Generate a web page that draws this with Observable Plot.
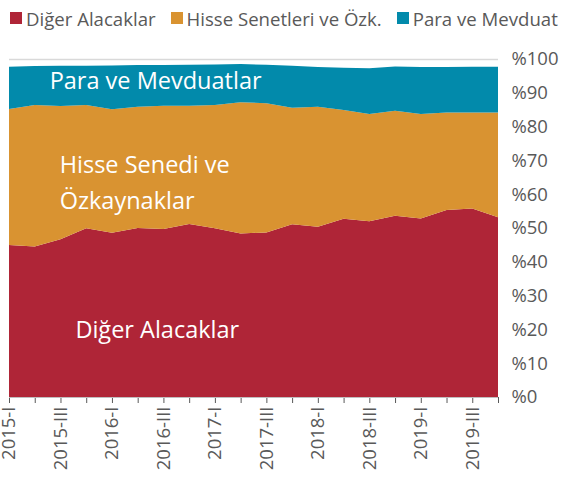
<!DOCTYPE html>
<html>
<head>
<meta charset="utf-8">
<script src="https://cdn.jsdelivr.net/npm/d3@7"></script>
<script src="https://cdn.jsdelivr.net/npm/@observablehq/plot@0.6"></script>
<style>
  html, body { margin: 0; padding: 0; background: #fff; }
  body { font-family: "Open Sans", sans-serif; width: 567px; height: 478px; overflow: hidden; }
  #legend { height: 36px; display: flex; align-items: center; padding-left: 10px; box-sizing: border-box; color: #595959; font-size: 18.6px; }
  .item { display: flex; align-items: center; margin-right: 15px; white-space: nowrap; }
  .sw { width: 12px; height: 12px; margin-right: 4px; display: inline-block; }
  svg { display: block; }
</style>
</head>
<body>
<div id="legend"></div>
<div id="chart"></div>
<script>
const quarters = ["2015-I","2015-II","2015-III","2015-IV","2016-I","2016-II","2016-III","2016-IV",
  "2017-I","2017-II","2017-III","2017-IV","2018-I","2018-II","2018-III","2018-IV",
  "2019-I","2019-II","2019-III","2019-IV"];
const series = ["Diğer Alacaklar", "Hisse Senetleri ve Özk.", "Para ve Mevduat"];
const colors = ["#AF2537", "#D99331", "#028AAB"];
const digerAlacaklar = [45.0, 44.5, 46.7, 49.9, 48.6, 50.0, 49.7, 51.2, 49.9, 48.4, 48.7, 51.1, 50.4, 52.7, 52.0, 53.6, 52.8, 55.3, 55.8, 53.2];
const hisseSenetleri = [40.2, 41.9, 39.4, 36.5, 36.5, 35.9, 36.5, 35.0, 36.5, 38.8, 38.2, 34.5, 35.5, 32.2, 31.7, 31.1, 30.9, 28.9, 28.4, 31.0];
const paraMevduat   = [12.5, 11.5, 11.9, 11.6, 13.0, 12.3, 12.0, 12.1, 12.0, 11.3, 11.4, 12.4, 11.7, 12.5, 13.6, 13.1, 13.9, 13.4, 13.5, 13.5];
const yTicks = [0, 10, 20, 30, 40, 50, 60, 70, 80, 90, 100];
const annotations = [
  {label: "Para ve Mevduatlar", x: 1.56, y: 93.6},
  {label: "Hisse Senedi ve", x: 1.95, y: 68.6},
  {label: "Özkaynaklar", x: 1.95, y: 58.0},
  {label: "Diğer Alacaklar", x: 2.56, y: 19.8}
];

const legend = document.getElementById("legend");
series.forEach((s, k) => {
  const it = document.createElement("span");
  it.className = "item";
  it.innerHTML = `<span class="sw" style="background:${colors[k]}"></span><span>${s}</span>`;
  legend.appendChild(it);
});

const values = [digerAlacaklar, hisseSenetleri, paraMevduat];
const data = quarters.flatMap((q, i) => series.map((s, k) => ({i, q, s, v: values[k][i]})));

const chart = Plot.plot({
  width: 567,
  height: 442,
  marginTop: 23,
  marginBottom: 81,
  marginLeft: 9,
  marginRight: 69,
  style: {fontFamily: "'Open Sans', sans-serif", fontSize: "18.5px", color: "#595959", background: "#fff", overflow: "visible"},
  x: {type: "linear", domain: [0, quarters.length - 1], ticks: d3.range(quarters.length),
      tickFormat: i => (i % 2 === 0 ? quarters[i] : ""), tickRotate: -90, tickSize: 6, tickPadding: 3, label: null},
  y: {domain: [0, 100], ticks: yTicks, tickFormat: d => "%" + d, axis: "right", tickSize: 0, tickPadding: 13, label: null},
  color: {domain: series, range: colors},
  marks: [
    Plot.ruleY([100], {stroke: "#d9d9d9", strokeWidth: 1.5}),
    Plot.areaY(data, {x: "i", y: "v", fill: "s", z: "s"}),
    Plot.ruleY([0], {stroke: "#bfbfbf"}),
    Plot.text(annotations, {x: "x", y: "y", text: "label", textAnchor: "start", fill: "white", fontSize: 23.5, fontFamily: "'Open Sans', sans-serif"})
  ]
});
document.getElementById("chart").appendChild(chart);
</script>
</body>
</html>
